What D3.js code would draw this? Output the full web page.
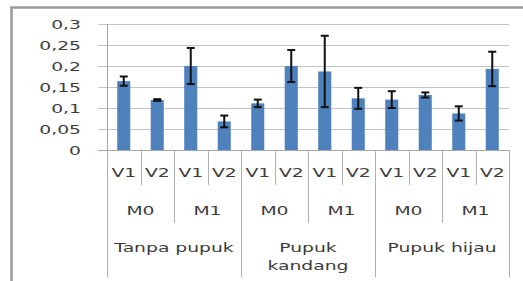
<!DOCTYPE html>
<html>
<head>
<meta charset="utf-8">
<script src="https://cdn.jsdelivr.net/npm/d3@7"></script>
<style>
  html, body { margin: 0; padding: 0; background: #fff; }
  svg { display: block; }
  text { font-family: "DejaVu Sans", sans-serif; fill: #3c3c3c; }
</style>
</head>
<body>
<svg id="chart" width="523" height="281"></svg>
<script>
// ---- data ----
const groups = ["Tanpa pupuk", "Pupuk kandang", "Pupuk hijau"];
const groupLines = [["Tanpa pupuk"], ["Pupuk", "kandang"], ["Pupuk hijau"]];
const mLevels = ["M0", "M1"];
const vLevels = ["V1", "V2"];
const values = [0.164, 0.119, 0.200, 0.068, 0.111, 0.200, 0.187, 0.123, 0.120, 0.131, 0.087, 0.193];
const errors = [0.011, 0.002, 0.043, 0.014, 0.009, 0.038, 0.085, 0.025, 0.020, 0.006, 0.017, 0.041];
const yTicks = [0, 0.05, 0.1, 0.15, 0.2, 0.25, 0.3];
const yTickLabels = ["0", "0,05", "0,1", "0,15", "0,2", "0,25", "0,3"];

// ---- layout ----
const svg = d3.select("#chart");
const pL = 107, pR = 509, pT = 24, pB = 150;
const sx = 1.5; // horizontal text stretch
const fs = 12.5;

const cats = d3.range(values.length);
const x = d3.scaleBand().domain(cats).range([pL, pR]).padding(0);
const y = d3.scaleLinear().domain([0, 0.3]).range([pB, pT]);
const bw = x.bandwidth();

// frame
svg.append("path")
  .attr("d", `M11.5,281 V7.5 H523`)
  .attr("fill", "none").attr("stroke", "#9a9a9a").attr("stroke-width", 2.5);

// gridlines with outer ticks
svg.append("g").selectAll("line").data(yTicks).join("line")
  .attr("x1", pL - 9).attr("x2", pR)
  .attr("y1", d => Math.round(y(d)) + 0.5).attr("y2", d => Math.round(y(d)) + 0.5)
  .attr("stroke", d => d === 0 ? "#a6a6a6" : "#c4c4c4").attr("stroke-width", 1);

// y axis line
svg.append("line")
  .attr("x1", pL + 0.5).attr("x2", pL + 0.5)
  .attr("y1", pT).attr("y2", pB)
  .attr("stroke", "#a6a6a6");

// y labels
svg.append("g").selectAll("text").data(yTicks).join("text")
  .attr("transform", d => `translate(81,${y(d) + 4.6}) scale(${sx},1)`)
  .attr("text-anchor", "end").attr("font-size", fs)
  .text((d, i) => yTickLabels[i]);

// bars
const barW = bw * 0.39;
svg.append("g").selectAll("rect").data(cats).join("rect")
  .attr("x", i => x(i) + (bw - barW) / 2)
  .attr("width", barW)
  .attr("y", i => y(values[i]))
  .attr("height", i => y(0) - y(values[i]))
  .attr("fill", "#4f81bd");

// error bars
const eg = svg.append("g").attr("stroke", "#111").attr("stroke-width", 2);
cats.forEach(i => {
  const cx = x(i) + bw / 2;
  const y1 = y(values[i] + errors[i]), y2 = y(values[i] - errors[i]);
  eg.append("line").attr("x1", cx).attr("x2", cx).attr("y1", y1).attr("y2", y2);
  eg.append("line").attr("x1", cx - 4).attr("x2", cx + 4).attr("y1", y1).attr("y2", y1);
  eg.append("line").attr("x1", cx - 4).attr("x2", cx + 4).attr("y1", y2).attr("y2", y2);
});

// category separators
const bounds = d3.range(values.length + 1);
svg.append("g").selectAll("line").data(bounds).join("line")
  .attr("x1", b => Math.round(b === values.length ? pR : x(b)) + 0.5)
  .attr("x2", b => Math.round(b === values.length ? pR : x(b)) + 0.5)
  .attr("y1", pB)
  .attr("y2", b => b % 4 === 0 ? 277 : (b % 2 === 0 ? 223 : 185))
  .attr("stroke", "#b0b0b0");

// V labels
svg.append("g").selectAll("text").data(cats).join("text")
  .attr("transform", i => `translate(${x(i) + bw / 2},176.5) scale(${sx},1)`)
  .attr("text-anchor", "middle").attr("font-size", fs)
  .text(i => vLevels[i % 2]);

// M labels
const mIdx = d3.range(groups.length * mLevels.length);
svg.append("g").selectAll("text").data(mIdx).join("text")
  .attr("transform", j => `translate(${x(j * 2) + bw},215) scale(${sx},1)`)
  .attr("text-anchor", "middle").attr("font-size", fs)
  .text(j => mLevels[j % 2]);

// group labels
groups.forEach((g, k) => {
  const cx = x(k * 4) + bw * 2;
  groupLines[k].forEach((ln, li) => {
    svg.append("text")
      .attr("transform", `translate(${cx},${252 + li * 18}) scale(${sx},1)`)
      .attr("text-anchor", "middle").attr("font-size", fs)
      .text(ln);
  });
});
</script>
</body>
</html>
